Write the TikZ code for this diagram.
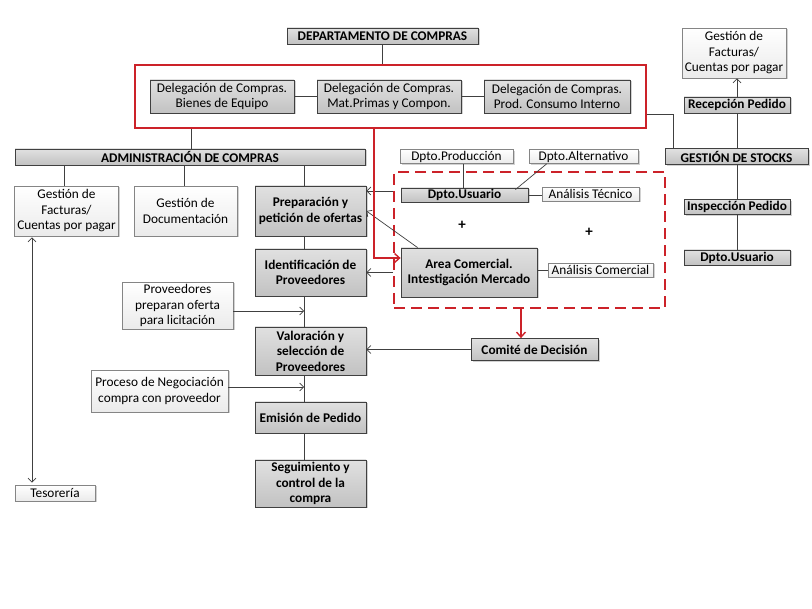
\documentclass[tikz,border=0pt]{standalone}
\usepackage{fontspec}
\setmainfont{Carlito}
\usetikzlibrary{arrows.meta,shadows,calc}
\definecolor{redl}{HTML}{CC2229}
\definecolor{bord}{HTML}{404040}
\definecolor{wbord}{HTML}{858585}
\begin{document}
\begin{tikzpicture}[x=1pt,y=-1pt,
 base/.style={inner sep=1pt, align=center, font=\fontsize{13.3}{15.5}\selectfont,
   drop shadow={shadow xshift=1.5pt,shadow yshift=-1.5pt,opacity=0.35}},
 gbox/.style={base, draw=bord, line width=0.8pt, top color=black!12, bottom color=black!24},
 gb/.style={gbox, font=\fontsize{13.3}{15.5}\selectfont\bfseries},
 wbox/.style={base, draw=wbord, line width=0.7pt, top color=white, bottom color=black!8},
 ln/.style={draw=bord, line width=0.7pt},
 arr/.style={ln, -{Straight Barb[length=4pt,width=8pt]}},
 darr/.style={ln, {Straight Barb[length=4pt,width=8pt]}-{Straight Barb[length=4pt,width=8pt]}},
 rarr/.style={draw=redl, line width=1.4pt, -{Straight Barb[length=5pt,width=9pt]}},
 sz/.style n args={2}{minimum width=#1pt, minimum height=#2pt},
]
\fill[white] (0,0) rectangle (812,609);
\useasboundingbox (0,0) rectangle (812,609);

% top
\node[gb, sz={191}{16}] (dept) at (382.5,36) {DEPARTAMENTO DE COMPRAS};
\node[draw=redl, line width=1.6pt, sz={511}{63}, inner sep=0pt] (redbox) at (390.5,96.5) {};
\node[gbox, sz={144}{33}] (del1) at (222,96.5) {Delegación de Compras.\\Bienes de Equipo};
\node[gbox, sz={144}{33}] (del2) at (389,96.5) {Delegación de Compras.\\Mat.Primas y Compon.};
\node[gbox, sz={146}{33}] (del3) at (557,96.5) {Delegación de Compras.\\Prod. Consumo Interno};

% left column
\node[gb, sz={350}{16}] (admin) at (190,157) {ADMINISTRACIÓN DE COMPRAS};
\node[wbox, sz={104}{50}] (fact1) at (66.5,211) {Gestión de\\Facturas/\\Cuentas por pagar};
\node[wbox, sz={103}{50}] (doc) at (185.5,211) {Gestión de\\Documentación};
\node[gb, sz={111}{50}] (prep) at (310.5,211) {Preparación y\\petición de ofertas};
\node[gb, sz={111}{47}] (ident) at (310.5,272.5) {Identificación de\\Proveedores};
\node[gb, sz={111}{48}] (valor) at (310.5,351) {Valoración y\\selección de\\Proveedores};
\node[gb, sz={111}{31}] (emis) at (310.5,417.5) {Emisión de Pedido};
\node[gb, sz={111}{47}] (segui) at (310.5,483.5) {Seguimiento y\\control de la\\compra};
\node[wbox, sz={111}{47}] (prov) at (177.5,305.5) {Proveedores\\preparan oferta\\para licitación};
\node[wbox, sz={137}{42}] (nego) at (159.5,391) {Proceso de Negociación\\compra con proveedor};
\node[wbox, sz={80}{16}] (teso) at (55,493) {Tesorería};

% middle
\node[draw=redl, line width=1.8pt, dash pattern=on 11pt off 6pt, sz={271}{136}, inner sep=0pt] (dbox) at (529.5,240) {};
\node[wbox, sz={113}{14}] (prod) at (456.5,156.5) {Dpto.Producción};
\node[wbox, sz={109}{14}] (alt) at (583.5,156.5) {Dpto.Alternativo};
\node[gb, sz={127}{14}] (usu) at (464.5,195) {Dpto.Usuario};
\node[wbox, sz={97}{14}] (atec) at (590.5,194) {Análisis Técnico};
\node[gb, sz={136}{49}] (acom) at (469,272.5) {Area Comercial.\\Intestigación Mercado};
\node[wbox, sz={105}{14}] (anacom) at (600.5,270) {Análisis Comercial};
\node[gb, sz={127}{22}] (comite) at (534.5,349.5) {Comité de Decisión};
\node[font=\fontsize{15}{16}\selectfont\bfseries] (plus1) at (462,225) {+};
\node[font=\fontsize{15}{16}\selectfont\bfseries] (plus2) at (589,232) {+};

% right column
\node[wbox, sz={104}{50}] (fact2) at (734,53) {Gestión de\\Facturas/\\Cuentas por pagar};
\node[gb, sz={106}{16}] (rec) at (737,105) {Recepción Pedido};
\node[gb, sz={143}{16}] (stocks) at (736.5,156.5) {GESTIÓN DE STOCKS};
\node[gb, sz={106}{15}] (insp) at (737,207) {Inspección Pedido};
\node[gb, sz={106}{15}] (usu2) at (737,257.5) {Dpto.Usuario};

% helper coordinates
\coordinate (vx) at (304,0);
\coordinate (p1) at (304,311);
\coordinate (p2) at (304,387);
\coordinate (tx) at (32,0);
\coordinate (q1) at (394,191);
\coordinate (rx) at (374,0);
\coordinate (r2) at (0,258);
\coordinate (rx2) at (521,0);
\coordinate (s1) at (673,114);

% connectors top
\draw[ln] (dept.south) -- (dept.south |- redbox.north);
\draw[ln] (del1) -- (del2);
\draw[ln] (del2) -- (del3);
\draw[ln] (admin.north -| 191,0) -- (redbox.south -| 191,0);

% left
\draw[ln] (admin.south -| 64,0) -- (fact1.north -| 64,0);
\draw[ln] (admin.south -| 184,0) -- (doc.north -| 184,0);
\draw[ln] (vx |- admin.south) -- (vx |- prep.north);
\draw[ln] (vx |- prep.south) -- (vx |- ident.north);
\draw[ln] (vx |- ident.south) -- (vx |- valor.north);
\draw[ln] (vx |- valor.south) -- (vx |- emis.north);
\draw[ln] (vx |- emis.south) -- (vx |- segui.north);
\draw[arr] (prov.east |- p1) -- (p1);
\draw[arr] (nego.east |- p2) -- (p2);
\draw[darr] ([yshift=-1pt]tx |- fact1.south) -- ([yshift=2pt]tx |- teso.north);

% middle
\draw[arr] (dbox.west |- q1) -- (prep.east |- q1);
\draw[arr] ($(acom.north west)+(17,0)$) -- (prep.east);
\draw[arr] (dbox.west |- ident.east) -- (ident.east);
\draw[rarr] (rx |- redbox.south) |- (acom.west |- r2);
\draw[rarr] (dbox.south -| rx2) -- (comite.north -| rx2);
\draw[arr] (comite.west) -- (valor.east |- comite.west);
\draw[ln] (usu.north -| 463,0) -- (prod.south -| 463,0);
\draw[ln] ($(alt.south west)+(18,0)$) -- ($(usu.north east)+(-13,2)$);
\draw[ln] (usu.east) -- (atec.west |- usu.east);
\draw[ln] (acom.east |- anacom.west) -- (anacom.west);

% right
\draw[ln] (redbox.east |- s1) -| (stocks.north -| s1);
\draw[arr] (rec.north) -- (rec.north |- fact2.south);
\draw[ln] (rec.south) -- (rec.south |- stocks.north);
\draw[ln] (insp.north) -- (insp.north |- stocks.south);
\draw[ln] (insp.south) -- (usu2.north);
\end{tikzpicture}
\end{document}
